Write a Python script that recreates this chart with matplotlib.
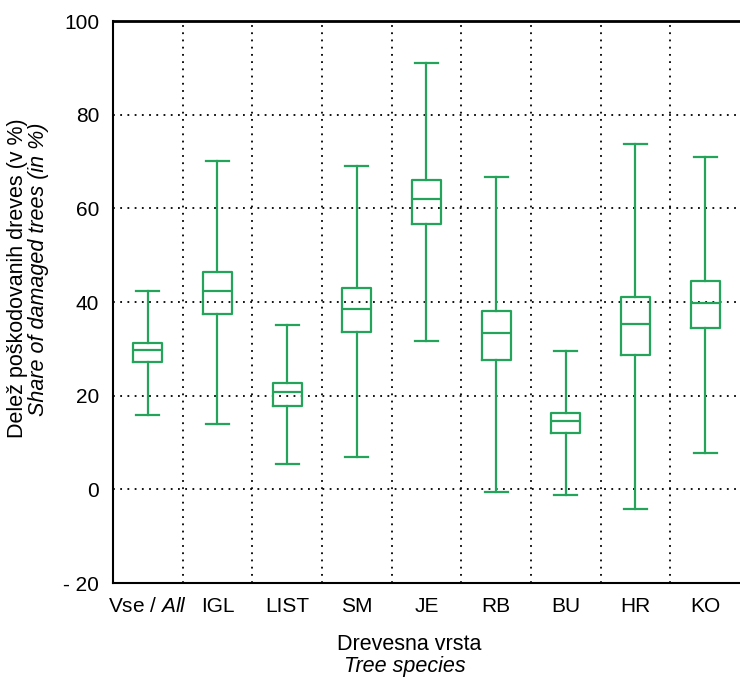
import matplotlib.pyplot as plt
from matplotlib.ticker import FixedLocator

plt.rcParams['font.family'] = ['Liberation Sans', 'DejaVu Sans']
plt.rcParams['mathtext.fontset'] = 'custom'
plt.rcParams['mathtext.rm'] = 'Liberation Sans'
plt.rcParams['mathtext.it'] = 'Liberation Sans:italic'

# tree species and box statistics (share of damaged trees, %)
species = [r'Vse / $\mathit{All}$', 'IGL', 'LIST', 'SM', 'JE', 'RB', 'BU', 'HR', 'KO']
whisker_low = [15.8, 13.9, 5.5, 7.0, 31.6, -0.6, -1.3, -4.1, 7.7]
q1 = [27.1, 37.5, 17.9, 33.5, 56.6, 27.7, 12.0, 28.6, 34.4]
median = [29.7, 42.3, 20.7, 38.6, 61.9, 33.3, 14.5, 35.4, 39.7]
q3 = [31.2, 46.5, 22.8, 43.1, 66.0, 38.0, 16.4, 41.0, 44.4]
whisker_high = [42.3, 70.2, 35.2, 69.1, 91.1, 66.6, 29.5, 73.8, 70.9]

green = '#23a45a'

stats = []
for i in range(len(species)):
    stats.append({'whislo': whisker_low[i], 'q1': q1[i], 'med': median[i],
                  'q3': q3[i], 'whishi': whisker_high[i], 'fliers': []})

fig = plt.figure(figsize=(7.4, 6.8), dpi=100)
ax = fig.add_axes([0.1527, 0.1426, 0.8473, 0.8265])

line = dict(color=green, linewidth=1.6)
ax.bxp(stats, positions=range(len(species)), widths=0.42,
       showfliers=False, boxprops=line, medianprops=line,
       whiskerprops=line, capprops=line, capwidths=0.33,
       manage_ticks=False)

ax.set_xlim(-0.5, 8.5)
ax.set_ylim(-20, 100)
ax.set_xticks(range(len(species)))
ax.set_xticklabels(species, fontsize=15)
ax.set_yticks([-20, 0, 20, 40, 60, 80, 100])
ax.set_yticklabels(['- 20', '0', '20', '40', '60', '80', '100'], fontsize=15)
ax.tick_params(length=0, pad=10)

# dotted grid: horizontal at values, vertical between species
for y in [0, 20, 40, 60, 80]:
    ax.axhline(y, color='black', linestyle=(0, (1, 3)), linewidth=1.3, zorder=0)
ax.xaxis.set_minor_locator(FixedLocator([i + 0.5 for i in range(len(species) - 1)]))
ax.grid(True, which='minor', axis='x', color='black', linestyle=(0, (1, 3)),
        linewidth=1.3, zorder=0)
ax.tick_params(which='minor', length=0)

ax.spines['right'].set_visible(False)
for s in ['left', 'bottom']:
    ax.spines[s].set_linewidth(1.5)
ax.spines['top'].set_linewidth(2)

# axis titles (Slovene / English italic)
fig.text(0.024, 0.591, 'Delež poškodovanih dreves (v %)', rotation=90,
         ha='center', va='center', fontsize=15.5)
fig.text(0.052, 0.604, 'Share of damaged trees (in %)', rotation=90,
         ha='center', va='center', fontsize=15.5, style='italic')
fig.text(0.553, 0.052, 'Drevesna vrsta', ha='center', va='center', fontsize=15.5)
fig.text(0.547, 0.004, 'Tree species', ha='center', va='bottom', fontsize=15.5,
         style='italic')

fig.savefig('out.png', dpi=100)
